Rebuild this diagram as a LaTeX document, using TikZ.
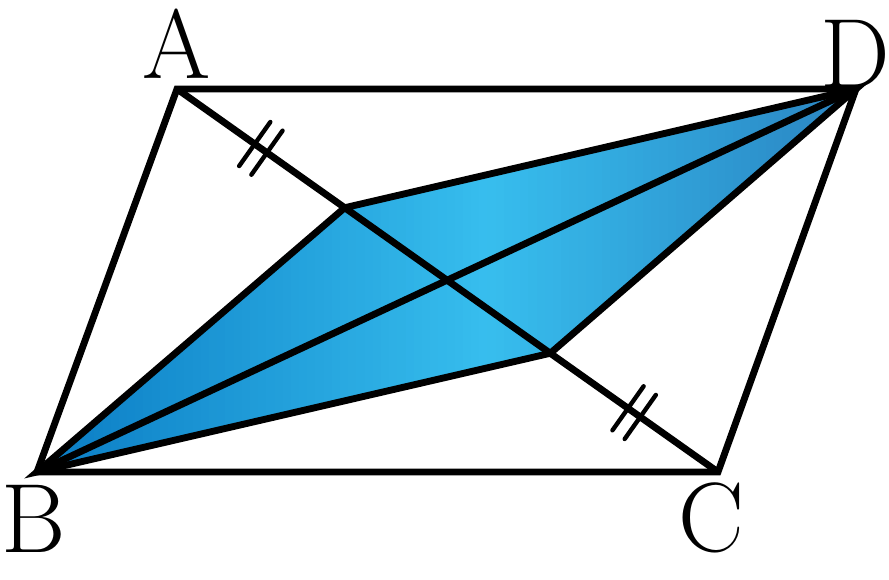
\documentclass[tikz,border=0pt]{standalone}
\usetikzlibrary{calc}
\definecolor{blueleft}{HTML}{0A7CC4}
\definecolor{bluemid}{HTML}{37BEEE}
\definecolor{blueright}{HTML}{2A84C2}
\tikzset{
  vlabel/.style={anchor=base, inner sep=0pt, font=\fontsize{56}{60}\selectfont},
  eqtick/.style={line width=2.5pt, line cap=round}
}
\begin{document}
\begin{tikzpicture}[x=0.02cm, y=-0.02cm, line width=3.9pt]
            \useasboundingbox (0,0) rectangle (889,580);
            \coordinate (A) at (177,89);
            \coordinate (B) at (37,472);
            \coordinate (C) at (718,472);
            \coordinate (D) at (856,89);
            \coordinate (E) at ($(A)!0.31!(C)$);
            \coordinate (F) at ($(A)!0.69!(C)$);

            \node[vlabel] (labA) at (177,79) {A};
            \node[vlabel] (labB) at (34,553) {B};
            \node[vlabel] (labC) at (711,551) {C};
            \node[vlabel] (labD) at (855,88) {D};

            % shaded quadrilateral BEDF, left to right
            \begin{scope}
              \clip (B) -- (E) -- (D) -- (F) -- cycle;
              \foreach \i in {0,...,99} {
                \ifnum\i<55
                  \pgfmathtruncatemacro\p{100*(\i+0.5)/55}\def\o{blueleft}
                \else
                  \pgfmathtruncatemacro\p{100*(99.5-\i)/45}\def\o{blueright}
                \fi
                \fill[bluemid!\p!\o] (37+8.19*\i,80) rectangle (37+8.19*\i+8.8,480);
              }
            \end{scope}

            \draw (A) -- (D) -- (C) -- (B) -- cycle;
            \draw (A) edge (C) (B) edge (D);
            \draw (B) -- (E) -- (D) -- (F) -- cycle;

            % equal segments AE and FC
            \coordinate (mAE) at ($(A)!0.5!(E)$);
            \coordinate (mFC) at ($(F)!0.5!(C)$);
            \foreach \m/\q in {mAE/E, mFC/C}
              \foreach \s in {-0.15cm, 0.15cm} {
                \coordinate (t) at ($(\m)!\s!(\q)$);
                \draw[eqtick] ($(t)!0.54cm!90:(\q)$) -- ($(t)!0.54cm!-90:(\q)$);
              }
        \end{tikzpicture}
\end{document}
